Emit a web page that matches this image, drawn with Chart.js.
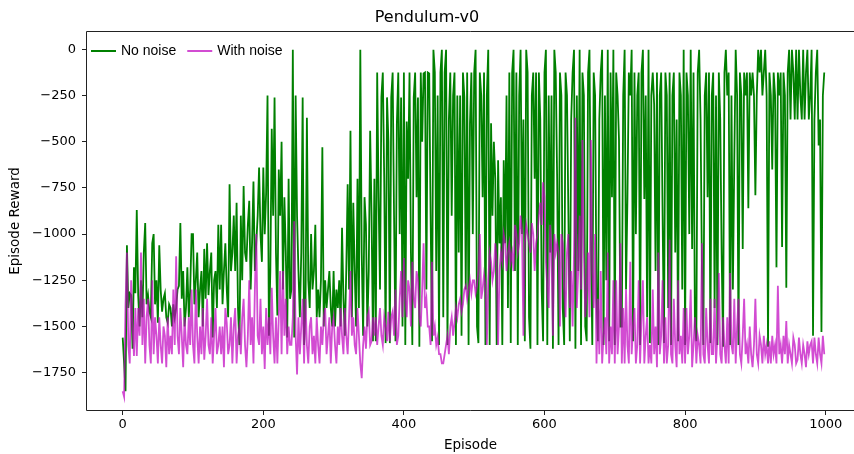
<!DOCTYPE html>
<html><head><meta charset="utf-8">
<script src="https://cdn.jsdelivr.net/npm/chart.js@4"></script>
<style>html,body{margin:0;padding:0;background:#fff;overflow:hidden;width:854px;height:454px}canvas{display:block}</style>
</head><body>
<canvas id="c" width="854" height="454" style="width:854px;height:454px"></canvas>
<script>
const chartTitle = 'Pendulum-v0';
const xTitle = 'Episode';
const yTitle = 'Episode Reward';
const seriesNames = ['No noise', 'With noise'];
const seriesColors = ['#008000', 'rgba(191,0,191,0.7)'];

const episodes = [
0,2,4,6,8,10,12,14,16,18,20,22,24,26,28,30,32,34,36,38,40,42,44,46,48,50,52,54,56,58,60,62,64,66,68,70,72,74,76,78,
80,82,84,86,88,90,92,94,96,98,100,102,104,106,108,110,112,114,116,118,120,122,124,126,128,130,132,134,136,138,140,142,144,146,148,150,152,154,156,158,
160,162,164,166,168,170,172,174,176,178,180,182,184,186,188,190,192,194,196,198,200,202,204,206,208,210,212,214,216,218,220,222,224,226,228,230,232,234,236,238,
240,242,244,246,248,250,252,254,256,258,260,262,264,266,268,270,272,274,276,278,280,282,284,286,288,290,292,294,296,298,300,302,304,306,308,310,312,314,316,318,
320,322,324,326,328,330,332,334,336,338,340,342,344,346,348,350,352,354,356,358,360,362,364,366,368,370,372,374,376,378,380,382,384,386,388,390,392,394,396,398,
400,402,404,406,408,410,412,414,416,418,420,422,424,426,428,430,432,434,436,438,440,442,444,446,448,450,452,454,456,458,460,462,464,466,468,470,472,474,476,478,
480,482,484,486,488,490,492,494,496,498,500,502,504,506,508,510,512,514,516,518,520,522,524,526,528,530,532,534,536,538,540,542,544,546,548,550,552,554,556,558,
560,562,564,566,568,570,572,574,576,578,580,582,584,586,588,590,592,594,596,598,600,602,604,606,608,610,612,614,616,618,620,622,624,626,628,630,632,634,636,638,
640,642,644,646,648,650,652,654,656,658,660,662,664,666,668,670,672,674,676,678,680,682,684,686,688,690,692,694,696,698,700,702,704,706,708,710,712,714,716,718,
720,722,724,726,728,730,732,734,736,738,740,742,744,746,748,750,752,754,756,758,760,762,764,766,768,770,772,774,776,778,780,782,784,786,788,790,792,794,796,798,
800,802,804,806,808,810,812,814,816,818,820,822,824,826,828,830,832,834,836,838,840,842,844,846,848,850,852,854,856,858,860,862,864,866,868,870,872,874,876,878,
880,882,884,886,888,890,892,894,896,898,900,902,904,906,908,910,912,914,916,918,920,922,924,926,928,930,932,934,936,938,940,942,944,946,948,950,952,954,956,958,
960,962,964,966,968,970,972,974,976,978,980,982,984,986,988,990,992,994,996,998];

const noNoise = [
-1560,-1700,-1850,-1060,-1400,-1320,-1330,-1620,-1180,-1320,
-870,-1330,-1500,-1250,-1450,-1100,-940,-1380,-1330,-1420,
-1450,-1050,-1000,-1380,-1250,-1480,-1060,-1300,-1420,-1350,
-1320,-1450,-1480,-1380,-1400,-1500,-1380,-1450,-1400,-1300,
-1280,-940,-1350,-1200,-1500,-1400,-1180,-1450,-1300,-1000,
-1000,-1380,-1250,-1100,-1450,-1300,-1200,-1500,-1080,-1350,
-1050,-1330,-1200,-1100,-1560,-1250,-1200,-1400,-950,-1300,
-950,-1380,-1200,-1050,-1300,-1450,-730,-1200,-1100,-900,
-1200,-830,-1400,-1600,-900,-1250,-740,-1100,-1150,-950,
-820,-1300,-1050,-715,-1200,-1050,-900,-640,-1000,-1150,
-640,-1000,-780,-250,-1550,-1200,-430,-900,-260,-1100,
-1440,-650,-900,-500,-1300,-800,-1100,-1560,-700,-1350,
-1300,-2,-1560,-250,-900,-1200,-1450,-1100,-260,-1600,
-1400,-370,-1250,-1400,-1000,-1300,-1200,-950,-1450,-1300,
-1450,-1250,-530,-1500,-1250,-1400,-1300,-1200,-1400,-1500,
-1200,-1500,-1300,-1400,-1250,-1500,-965,-1350,-1550,-1200,
-730,-1300,-440,-1450,-830,-1200,-1500,-700,-1400,-2,
-1100,-1550,-800,-950,-1500,-1200,-440,-900,-1580,-700,
-1580,-125,-800,-1300,-260,-125,-700,-1590,-260,-500,
-1590,-260,-125,-900,-1580,-400,-125,-1000,-260,-1500,
-125,-1600,-390,-700,-125,-1100,-1600,-260,-125,-800,
-260,-1610,-125,-500,-130,-125,-1300,-125,-130,-900,
-1580,-2,-125,-1200,-250,-1600,-125,-2,-1450,-125,
-2,-1600,-380,-125,-900,-250,-125,-1600,-250,-1100,
-250,-1550,-125,-260,-1300,-125,-1600,-400,-125,-1000,
-125,-2,-1500,-1590,-125,-250,-800,-125,-1600,-250,
-2,-1600,-400,-900,-500,-700,-1600,-600,-1050,-800,
-1600,-600,-1050,-250,-1400,-125,-1590,-125,-2,-1200,
-125,-1600,-250,-2,-1000,-380,-1580,-2,-125,-1450,
-1620,-250,-125,-700,-125,-1600,-125,-380,-1300,-1580,
-125,-2,-1600,-250,-1100,-250,-1620,-2,-125,-700,
-1600,-125,-250,-1400,-1600,-125,-250,-900,-1580,-380,
-125,-2,-1620,-250,-1200,-2,-1600,-125,-250,-1500,
-1580,-125,-2,-1000,-1600,-125,-250,-1350,-1580,-380,
-125,-2,-1600,-250,-1250,-2,-1580,-125,-800,-2,
-1600,-125,-250,-490,-1500,-1500,-250,-2,-1300,-810,
-125,-250,-2,-1580,-125,-1000,-250,-125,-1600,-125,
-2,-810,-250,-1450,-2,-1590,-250,-125,-300,-1200,
-125,-1600,-250,-125,-900,-1590,-125,-250,-1400,-125,
-1600,-250,-125,-1100,-380,-1580,-125,-250,-1300,-2,
-1600,-125,-250,-1000,-2,-1080,-125,-1500,-1580,-125,
-2,-380,-1200,-1600,-250,-125,-800,-125,-1590,-250,
-125,-1400,-250,-1600,-125,-380,-1100,-1610,-125,-2,
-250,-125,-1600,-250,-1300,-600,-2,-250,-1600,-125,
-250,-1080,-125,-250,-125,-860,-125,-250,-125,-250,
-790,-250,-2,-125,-2,-250,-125,-2,-250,-1610,
-125,-250,-650,-125,-250,-1180,-125,-250,-125,-1070,
-125,-250,-1290,-125,-2,-380,-2,-125,-380,-2,
-380,-2,-250,-380,-2,-380,-125,-2,-380,-250,
-2,-1550,-380,-125,-2,-520,-380,-1530,-250,-125];

const withNoise = [
-1850,-1880,-1380,-1100,-1600,-1700,-1250,-1500,-1660,-1400,
-1660,-1400,-1550,-1100,-1600,-1350,-1700,-1450,-1350,-1600,
-1700,-1250,-1650,-1450,-1550,-1700,-1450,-1600,-1700,-1500,
-1550,-1720,-1450,-1650,-1550,-1650,-1300,-1600,-1120,-1550,
-1650,-1400,-1550,-1720,-1450,-1600,-1650,-1450,-1600,-1300,
-1600,-1700,-1300,-1550,-1700,-1500,-1650,-1400,-1680,-1550,
-1350,-1600,-1650,-1450,-1700,-1550,-1400,-1650,-1600,-1500,
-1650,-1500,-1720,-1400,-1480,-1650,-1600,-1450,-1700,-1500,
-1400,-1700,-1550,-1500,-1650,-1450,-1350,-1600,-1720,-1550,
-1250,-1600,-1450,-1700,-1300,-1000,-1550,-1600,-1350,-1650,
-1500,-1730,-1400,-1600,-1450,-1650,-1290,-1550,-1700,-1450,
-1700,-1450,-1200,-1650,-1200,-1550,-1350,-1650,-1500,-1600,
-1600,-1450,-930,-1550,-1760,-1450,-1650,-1500,-1350,-1700,
-1350,-1600,-1700,-1500,-1450,-1650,-1550,-1700,-1450,-1600,
-1700,-1500,-1600,-1450,-1400,-1650,-1550,-1450,-1700,-1500,
-1450,-1600,-1700,-1500,-1600,-1400,-1550,-1650,-1400,-1550,
-1650,-1450,-1200,-1550,-1450,-1600,-1650,-1400,-1550,-1700,
-1780,-1600,-1500,-1620,-1450,-1420,-1600,-1580,-1450,-1550,
-1450,-1600,-1500,-1400,-1550,-1600,-1450,-1500,-1580,-1420,
-1580,-1450,-1420,-1550,-1300,-1600,-1550,-1350,-1200,-1450,
-1130,-1350,-1450,-1250,-1300,-1500,-1150,-1350,-1400,-1200,
-1250,-1450,-1500,-1300,-1050,-1400,-1350,-1500,-1500,-1600,
-1150,-1550,-1500,-1600,-1560,-1650,-1650,-1700,-1700,-1650,
-1600,-1550,-1650,-1500,-1450,-1550,-1480,-1400,-1450,-1380,
-1350,-1420,-1380,-1300,-1280,-1350,-1300,-1250,-1320,-1250,
-1250,-1320,-1280,-1200,-1000,-1350,-1300,-1220,-1280,-1600,
-1250,-1100,-1150,-1250,-1200,-1050,-1150,-1600,-1200,-1100,
-1150,-1000,-1050,-1200,-1100,-1050,-1150,-1100,-1200,-950,
-1000,-1100,-1050,-900,-980,-1550,-1050,-950,-1000,-1050,
-1100,-940,-1000,-1200,-1050,-1000,-900,-830,-950,-720,
-800,-1150,-1300,-1400,-950,-1100,-1550,-1000,-1100,-1050,
-1100,-1500,-1000,-1050,-1300,-1450,-1100,-1000,-1400,-1200,
-1500,-1100,-370,-1400,-1200,-900,-1300,-490,-1100,-1450,
-1300,-1100,-1450,-490,-1200,-1400,-1000,-1700,-1350,-1650,
-1200,-1700,-1550,-1450,-1650,-1100,-1700,-1500,-1650,-1250,
-1700,-1250,-1650,-1500,-1050,-1700,-1400,-1700,-1300,-1600,
-1700,-1150,-1650,-1500,-1400,-1700,-1600,-1250,-1700,-1450,
-1250,-1700,-1550,-1450,-1700,-1600,-1700,-1300,-1650,-1500,
-1720,-1100,-1650,-1550,-1250,-1700,-1450,-1700,-1600,-1030,
-1650,-1700,-1350,-1600,-1720,-1250,-1650,-1550,-1700,-1400,
-1700,-1400,-1650,-1550,-1300,-1720,-1600,-1450,-1700,-1550,
-1600,-1700,-1050,-1650,-1700,-1400,-1600,-1700,-1350,-1650,
-1650,-1350,-1700,-1550,-1210,-1650,-1700,-1450,-1600,-1700,
-1450,-1700,-1210,-1600,-1650,-1350,-1700,-1500,-1350,-1650,
-1700,-1550,-1350,-1650,-1600,-1700,-1500,-1650,-1720,-1600,
-1350,-1650,-1700,-1550,-1600,-1700,-1550,-1650,-1600,-1700,
-1580,-1700,-1550,-1650,-1600,-1700,-1280,-1650,-1600,-1700,
-1550,-1650,-1470,-1700,-1600,-1650,-1700,-1560,-1600,-1700,
-1680,-1560,-1650,-1700,-1600,-1650,-1720,-1580,-1650,-1600,
-1580,-1700,-1560,-1650,-1700,-1560,-1650,-1700,-1550,-1650];

const xTicks = [0, 200, 400, 600, 800, 1000];
const xTickLabels = ['0', '200', '400', '600', '800', '1000'];
const yTicks = [-1750, -1500, -1250, -1000, -750, -500, -250, 0];
const yTickLabels = ['\u22121750', '\u22121500', '\u22121250', '\u22121000', '\u2212750', '\u2212500', '\u2212250', '0'];

const toPoints = (ys) => episodes.map((e, i) => ({x: e, y: ys[i]}));

const frame = {
  id: 'frame',
  afterDatasetsDraw(chart) {
    const {ctx, chartArea: a} = chart;
    const l = Math.round(a.left) - 0.5, t = Math.round(a.top) - 0.5, b = Math.round(a.bottom) + 0.5;
    ctx.save();
    ctx.strokeStyle = '#222';
    ctx.lineWidth = 1;
    ctx.beginPath();
    ctx.moveTo(a.right + 2, t); ctx.lineTo(l, t); ctx.lineTo(l, b); ctx.lineTo(a.right + 2, b);
    ctx.stroke();
    ctx.restore();
  },
  afterDraw(chart) {
    const {ctx, chartArea: a} = chart;
    ctx.save();
    ctx.font = '14px "Liberation Sans", Arial, sans-serif';
    ctx.textBaseline = 'middle';
    ctx.fillStyle = '#000';
    let x = a.left + 4;
    const y = a.top + 19;
    seriesNames.forEach((name, i) => {
      ctx.strokeStyle = seriesColors[i];
      ctx.lineWidth = 2;
      ctx.beginPath(); ctx.moveTo(x, y); ctx.lineTo(x + 25, y); ctx.stroke();
      x += 30;
      ctx.fillText(name, x, y + 0.5);
      x += ctx.measureText(name).width + 11;
    });
    ctx.restore();
  }
};

Chart.defaults.font.family = 'DejaVu Sans';
Chart.defaults.color = '#000';

new Chart(document.getElementById('c'), {
  type: 'line',
  data: {
    datasets: [
      {label: seriesNames[0], data: toPoints(noNoise), borderColor: seriesColors[0], backgroundColor: seriesColors[0],
       borderWidth: 1.8, pointRadius: 0, tension: 0, order: 1},
      {label: seriesNames[1], data: toPoints(withNoise), borderColor: seriesColors[1], backgroundColor: seriesColors[1],
       borderWidth: 1.8, pointRadius: 0, tension: 0, order: 0}
    ]
  },
  options: {
    responsive: false, animation: false, devicePixelRatio: 1,
    layout: {padding: 0},
    scales: {
      x: {
        type: 'linear', min: -50.8, max: 1040.3,
        afterFit(s) { s.height = 44; },
        afterBuildTicks(s) { s.ticks = xTicks.map(v => ({value: v})); },
        ticks: {callback: (v, i) => xTickLabels[i], color: '#000', font: {size: 13}, padding: 2, maxRotation: 0, autoSkip: false},
        grid: {display: true, drawOnChartArea: false, drawTicks: true, tickLength: 5, color: '#222'},
        border: {display: false},
        title: {display: true, text: xTitle, color: '#000', font: {size: 13.5}, padding: {top: 0, bottom: 0}}
      },
      y: {
        type: 'linear', min: -1952, max: 94,
        afterFit(s) { s.width = 87; },
        afterBuildTicks(s) { s.ticks = yTicks.map(v => ({value: v})); },
        ticks: {callback: (v, i) => yTickLabels[i], color: '#000', font: {size: 13}, padding: 6, autoSkip: false},
        grid: {display: true, drawOnChartArea: false, drawTicks: true, tickLength: 5, color: '#222'},
        border: {display: false},
        title: {display: true, text: yTitle, color: '#000', font: {size: 13.5}, padding: {top: 7, bottom: 0}}
      }
    },
    plugins: {
      title: {display: true, text: chartTitle, color: '#000', font: {size: 16, weight: 'normal'}, padding: {top: 8.4, bottom: 4.4}},
      legend: {display: false},
      tooltip: {enabled: false}
    }
  },
  plugins: [frame]
});
</script>
</body></html>
